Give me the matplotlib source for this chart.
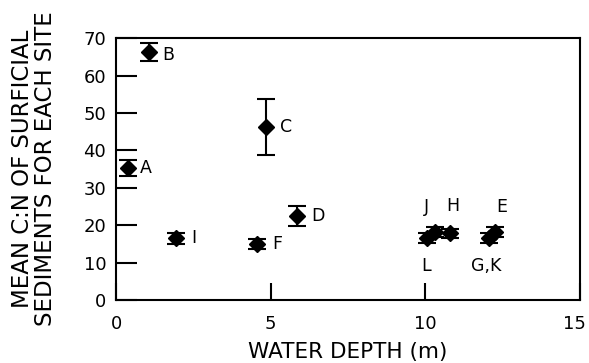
import matplotlib.pyplot as plt
from matplotlib.transforms import ScaledTranslation

plt.rcParams['font.family'] = ['DejaVu Sans']

# site data
sites = ['A', 'B', 'C', 'D', 'I', 'F', 'L', 'J', 'H', 'E', 'G,K']
depth = [0.4, 1.05, 4.85, 5.85, 1.95, 4.55, 10.05, 10.3, 10.8, 12.25, 12.05]
cn_mean = [35.3, 66.2, 46.3, 22.4, 16.5, 15.0, 16.5, 18.2, 17.8, 18.2, 16.6]
cn_err = [2.1, 2.4, 7.5, 2.6, 1.5, 1.3, 1.3, 1.3, 1.2, 1.3, 1.4]

# label offsets in points (dx, dy, ha)
offsets = {'A': (8, 0, 'left'), 'B': (10, -2, 'left'), 'C': (10, 0, 'left'),
           'D': (10, 0, 'left'), 'I': (11, 0, 'left'), 'F': (11, 0, 'left'),
           'L': (-1, -20, 'center'), 'J': (-6, 18, 'center'), 'H': (2, 20, 'center'),
           'E': (5, 18, 'center'), 'G,K': (-2, -20, 'center')}

fig = plt.figure(figsize=(5.89, 3.63), dpi=100)
ax = fig.add_axes([0.197, 0.1736, 0.788, 0.7214])

ax.errorbar(depth, cn_mean, yerr=cn_err, fmt='D', color='black', ms=8,
            ecolor='black', elinewidth=1.5, capsize=6.5, capthick=1.5)

for s, x, y in zip(sites, depth, cn_mean):
    dx, dy, ha = offsets[s]
    ax.annotate(s, (x, y), xytext=(dx, dy), textcoords='offset points',
                ha=ha, va='center', fontsize=12.5)

ax.set_xlim(0, 15)
ax.set_ylim(0, 70)
ax.set_xticks([0, 5, 10, 15])
ax.set_yticks(range(0, 71, 10))
ax.tick_params(axis='y', direction='in', length=15, width=1.5, pad=7, labelsize=13)
ax.tick_params(axis='x', direction='in', length=12, width=1.5, pad=11, labelsize=13)
for sp in ax.spines.values():
    sp.set_linewidth(1.5)

# nudge the "15" label a little left so it stays inside the figure
lbl15 = ax.get_xticklabels()[-1]
lbl15.set_transform(lbl15.get_transform() + ScaledTranslation(-4 / 72, 0, fig.dpi_scale_trans))

ax.set_xlabel('WATER DEPTH (m)', fontsize=15.5, labelpad=6)
ax.set_ylabel('MEAN C:N OF SURFICIAL\nSEDIMENTS FOR EACH SITE', fontsize=16.5,
              labelpad=19, linespacing=1.0)

fig.savefig('out.png', dpi=100)
